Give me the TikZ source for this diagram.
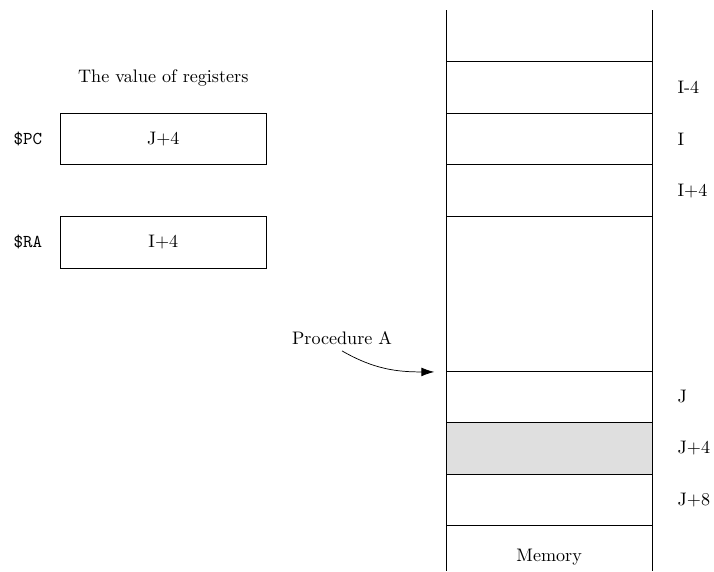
\documentclass[tikz,border=0pt]{standalone}
\usepackage{tikz}
\usetikzlibrary{arrows.meta}
\usetikzlibrary{positioning}
\tikzset{cell/.style = {draw, minimum width=4cm, minimum height=1cm,
                        inner sep=0pt, outer sep=0pt}}
\tikzset{shaded/.style = {cell, fill=gray!25}}
\tikzset{addr/.style = {anchor=west}}

\begin{document}
\begin{tikzpicture}
		\useasboundingbox (0, 0) rectangle (13.86, -11.09);
		% registers
		\node (title) at (3.17, -1.52) {The value of registers};
		\node [style=cell] (pc) at (3.17, -2.7) {J+4};
		\node [style=cell] (ra) at (3.17, -4.7) {I+4};
		\node [left=0.23cm of pc] (pcname) {\ttfamily \$PC};
		\node [left=0.23cm of ra] (raname) {\ttfamily \$RA};
		% memory
		\coordinate (mtl) at (8.66, -0.2);
		\coordinate (mbl) at (8.66, -11.09);
		\coordinate (mtr) at (12.66, -0.2);
		\coordinate (mbr) at (12.66, -11.09);
		\node [style=cell] (m1) at (10.66, -1.7) {};
		\node [style=cell] (m2) at (10.66, -2.7) {};
		\node [style=cell] (m3) at (10.66, -3.7) {};
		\node [style=cell] (m4) at (10.66, -7.7) {};
		\node [style=shaded] (m5) at (10.66, -8.7) {};
		\node [style=cell] (m6) at (10.66, -9.7) {};
		\draw (mtl) to (mbl);
		\draw (mtr) to (mbr);
		\node [addr, right=0.37cm of m1] (a1) {I-4};
		\node [addr, right=0.37cm of m2] (a2) {I};
		\node [addr, right=0.37cm of m3] (a3) {I+4};
		\node [addr, right=0.37cm of m4] (a4) {J};
		\node [addr, right=0.37cm of m5] (a5) {J+4};
		\node [addr, right=0.37cm of m6] (a6) {J+8};
		\node (mem) at (10.66, -10.82) {Memory};
		% procedure pointer
		\node (proc) at (6.64, -6.56) {Procedure A};
		\coordinate (tip) at (8.43, -7.22);
		\draw [-{Latex[length=2.5mm, width=1.7mm]}] (proc.south) to [out=-30, in=180] (tip);
	\end{tikzpicture}
\end{document}
